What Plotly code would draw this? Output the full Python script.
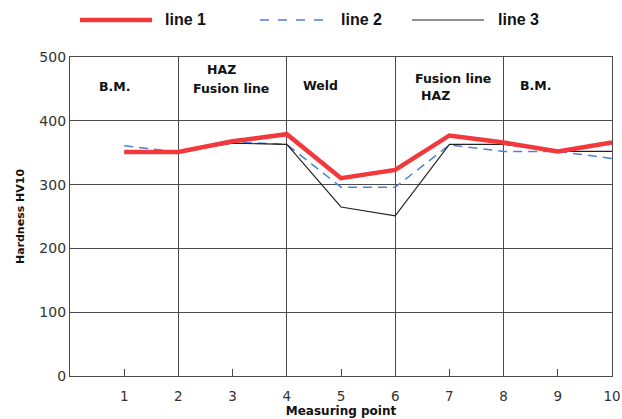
import plotly.graph_objects as go

points = [1, 2, 3, 4, 5, 6, 7, 8, 9, 10]
line1 = [351, 351, 368, 379, 310, 323, 377, 366, 352, 366]
line2 = [361, 351, 367, 363, 296, 296, 362, 352, 352, 341]
line3 = [351, 351, 365, 363, 265, 251, 363, 363, 352, 352]
series_names = ["line 1", "line 2", "line 3"]
zone_labels = ["B.M.", "HAZ", "Fusion line", "Weld", "Fusion line", "HAZ", "B.M."]
zone_x = [0.83, 2.79, 2.97, 4.62, 7.06, 6.75, 8.59]
zone_y = [453, 480, 451, 456, 467, 440, 456]
y_ticks = [0, 100, 200, 300, 400, 500]

RED = "#f2383a"
BLUE = "#4f7fd6"
BLACK = "#222222"
GRID = "#4a4a4a"
FONT = "DejaVu Sans"

W, H = 622, 419

fig = go.Figure()
fig.add_trace(go.Scatter(x=points, y=line2, mode="lines", name=series_names[1],
                         line=dict(color=BLUE, width=1.5, dash="9px,6px"), showlegend=False))
fig.add_trace(go.Scatter(x=points, y=line3, mode="lines", name=series_names[2],
                         line=dict(color=BLACK, width=1.1), showlegend=False))
fig.add_trace(go.Scatter(x=points, y=line1, mode="lines", name=series_names[0],
                         line=dict(color=RED, width=4.5), showlegend=False))

for lab, xx, yy in zip(zone_labels, zone_x, zone_y):
    fig.add_annotation(x=xx, y=yy, xref="x", yref="y", text=f"<b>{lab}</b>",
                       showarrow=False, font=dict(family=FONT, size=12.5, color="#111"))

# plot area in page pixels
L, R, T, B = 70, 612, 57, 376

def px(p):
    return (p - L) / (R - L)

def py(p):
    return (B - p) / (B - T)

leg = [
    (series_names[0], RED, 4.5, "solid", 80, 152, 163),
    (series_names[1], BLUE, 1.5, "dash", 260, 328, 339),
    (series_names[2], BLACK, 1.1, "solid", 412, 484, 496),
]
for name, col, w, dash, x0, x1, xt in leg:
    fig.add_shape(type="line", xref="paper", yref="paper", x0=px(x0), x1=px(x1),
                  y0=py(20), y1=py(20), line=dict(color=col, width=w, dash=dash))
    fig.add_annotation(xref="paper", yref="paper", x=px(xt), y=py(20), xanchor="left",
                       yanchor="middle", text=f"<b>{name}</b>", showarrow=False,
                       font=dict(family="Liberation Sans Narrow, Liberation Sans", size=16, color="#111"))

fig.update_layout(
    width=W, height=H,
    margin=dict(l=L, r=W - R, t=T, b=H - B, autoexpand=False),
    paper_bgcolor="white", plot_bgcolor="white",
    font=dict(family=FONT, color="#333"),
    showlegend=False,
)
fig.update_xaxes(
    range=[0, 10], tickmode="array", tickvals=points, ticktext=[str(p) for p in points],
    showgrid=False, zeroline=False,
    showline=True, linecolor=GRID, linewidth=1.3, mirror=True,
    ticks="inside", ticklen=7, tickcolor=GRID, tickwidth=1.2,
    ticklabelstandoff=8, ticklabeloverflow="allow",
    tickfont=dict(family=FONT, size=13.5, color="#333"),
    minor=dict(tickmode="array", tickvals=[2, 4, 6, 8, 10], showgrid=True,
               gridcolor=GRID, gridwidth=1.3, ticks=""),
    title=dict(text="<b>Measuring point</b>", font=dict(family=FONT, size=12, color="#111"),
               standoff=0),
)
fig.update_yaxes(
    range=[0, 500], tickmode="array", tickvals=y_ticks,
    showgrid=True, gridcolor=GRID, gridwidth=1.3, zeroline=False,
    showline=True, linecolor=GRID, linewidth=1.3, mirror=True,
    ticks="", ticklabelstandoff=0,
    tickfont=dict(family=FONT, size=14, color="#333"),
    title=dict(text="<b>Hardness HV10</b>", font=dict(family=FONT, size=11, color="#111"),
               standoff=12),
)

fig.write_html(
    "out.html",
    config={"displayModeBar": False},
    post_script="document.body.style.margin='0';document.body.style.overflow='hidden';",
)
